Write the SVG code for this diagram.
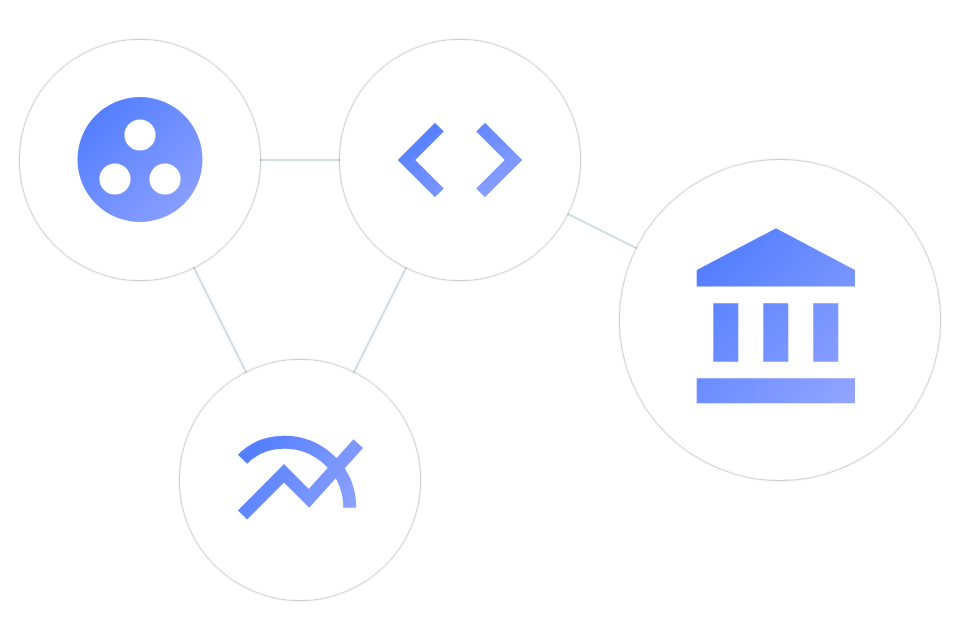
<svg xmlns="http://www.w3.org/2000/svg" width="960" height="640" viewBox="0 0 960 640">
<style>
.node{fill:#fff;filter:url(#s)}
.icon{fill:url(#g)}
.line{fill:none;stroke:url(#g2);stroke-width:13;stroke-linejoin:miter}
#connectors line{stroke:#cfdde2;stroke-width:2}
</style>
<defs>
<linearGradient id="g" x1="0" y1="0" x2="1" y2="1">
<stop offset="0.15" stop-color="#557fff"/>
<stop offset="1" stop-color="#93a5ff"/>
</linearGradient>
<linearGradient id="g2" gradientUnits="userSpaceOnUse" x1="238" y1="436" x2="362" y2="516">
<stop offset="0.15" stop-color="#557fff"/>
<stop offset="1" stop-color="#93a5ff"/>
</linearGradient>
<filter id="s" x="-10%" y="-10%" width="120%" height="120%">
<feDropShadow dx="0" dy="0" stdDeviation="1.2" flood-color="#000" flood-opacity="0.6"/>
</filter>
</defs>
<rect width="960" height="640" fill="#fff"/>
<g id="connectors">
<line x1="140" y1="160" x2="460" y2="160"/>
<line x1="140" y1="160" x2="300" y2="480"/>
<line x1="460" y1="160" x2="300" y2="480"/>
<line x1="460" y1="160" x2="780" y2="320"/>
</g>
<g id="node-circles">
<circle class="node" cx="140" cy="160" r="120"/>
<path class="icon" fill-rule="evenodd" d="M77.500 159.500a62.500 62.500 0 1 0 125 0a62.500 62.500 0 1 0 -125 0ZM124.400 135a15.600 15.600 0 1 0 31.200 0a15.600 15.600 0 1 0 -31.200 0ZM99.400 179a15.600 15.600 0 1 0 31.200 0a15.600 15.600 0 1 0 -31.200 0ZM149.400 179a15.600 15.600 0 1 0 31.200 0a15.600 15.600 0 1 0 -31.200 0Z"/>
</g>
<g id="node-code">
<circle class="node" cx="460" cy="160" r="120"/>
<path class="icon" d="M397.700 160L435 122.700L443.800 131.500L415.300 160L443.800 188.500L435 197.300ZM522.300 160L485 122.700L476.200 131.500L504.700 160L476.200 188.500L485 197.300Z"/>
</g>
<g id="node-chart">
<circle class="node" cx="300" cy="480" r="120"/>
<path class="line" d="M242.500 459.300C253 448.500 268 442.300 284.300 442.300C320.400 442.300 349.800 471.600 349.800 507.700"/>
<path class="line" d="M242.500 515L284 473.300L309 498.300L358.300 443.600"/>
</g>
<g id="node-bank">
<circle class="node" cx="780" cy="320" r="160"/>
<path class="icon" d="M776 228.300L855 270L855 286.500L696.700 286.500L696.700 270ZM713.300 303.300H738.300V361.700H713.300ZM763.300 303.300H788.300V361.700H763.300ZM813.300 303.300H838.300V361.700H813.300ZM696.700 378.300H855V403.300H696.700Z"/>
</g>
</svg>
